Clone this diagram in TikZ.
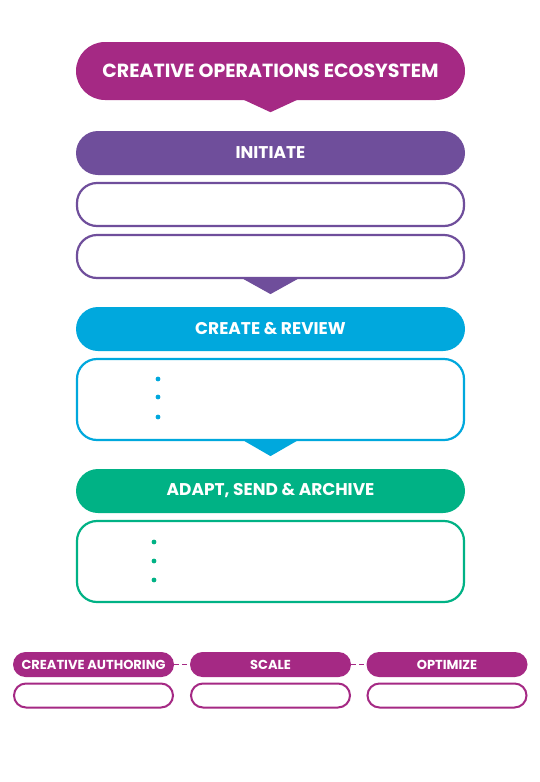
\documentclass[tikz,border=0pt]{standalone}
\usepackage{fontspec}
\setmainfont{Poppins}
\usepackage{tikz}
\usetikzlibrary{arrows.meta,positioning}
\definecolor{ecomag}{RGB}{165,41,132}
\definecolor{ecopurple}{RGB}{111,78,155}
\definecolor{ecocyan}{RGB}{0,168,221}
\definecolor{ecogreen}{RGB}{0,178,133}

\begin{document}
\begin{tikzpicture}[x=1pt,y=-1pt,>=Stealth,
  head/.style={fill=#1,text=white,rounded corners=22pt,minimum width=389pt,
    minimum height=44pt,inner sep=0pt,font=\bfseries\fontsize{17}{19}\selectfont},
  panel/.style={draw=#1,line width=2.2pt,fill=white,rounded corners=20pt,
    minimum width=387pt,inner sep=0pt},
  tag/.style={fill=ecomag,text=white,rounded corners=12.5pt,minimum width=161pt,
    minimum height=25pt,inner sep=0pt,font=\bfseries\fontsize{13}{15}\selectfont},
  slot/.style={draw=ecomag,line width=2pt,rounded corners=12pt,
    minimum width=159pt,minimum height=24pt,inner sep=0pt}]
  \useasboundingbox[fill=white] (0,0) rectangle (540,782);

  % title bubble with its pointer
  \node[head=ecomag,minimum height=58pt,rounded corners=29pt,
    font=\bfseries\fontsize{19}{21}\selectfont] (title) at (270.5,71) {CREATIVE OPERATIONS ECOSYSTEM};
  \fill[ecomag] ([xshift=-27pt,yshift=0.5pt]title.south) -- ([yshift=-12pt]title.south)
    -- ([xshift=27pt,yshift=0.5pt]title.south) -- cycle;

  % initiate
  \node[head=ecopurple] (initiate) at (270.5,153) {INITIATE};
  \node[panel=ecopurple,minimum height=43pt] (initA) at (270.5,204.5) {};
  \node[panel=ecopurple,minimum height=43pt] (initB) at (270.5,256.5) {};
  \fill[ecopurple] ([xshift=-27pt]initB.south) -- ([yshift=-15pt]initB.south)
    -- ([xshift=27pt]initB.south) -- cycle;

  % create & review
  \node[head=ecocyan] (create) at (270.5,329) {CREATE \& REVIEW};
  \node[panel=ecocyan,minimum height=81pt] (createbox) at (270.5,399.5) {};
  \foreach \by in {379,397,417}
    \fill[ecocyan] (158,\by) circle (2.4pt);
  \fill[ecocyan] ([xshift=-26pt]createbox.south) -- ([yshift=-15pt]createbox.south)
    -- ([xshift=26pt]createbox.south) -- cycle;

  % adapt, send & archive
  \node[head=ecogreen] (adapt) at (270.5,491) {ADAPT, SEND \& ARCHIVE};
  \node[panel=ecogreen,minimum height=81pt] (adaptbox) at (270.5,561.5) {};
  \foreach \by in {542,561,580}
    \fill[ecogreen] (154,\by) circle (2.4pt);

  % bottom row
  \node[tag] (authoring) at (93.5,664.5) {CREATIVE AUTHORING};
  \node[tag] (scale) at (270.5,664.5) {SCALE};
  \node[tag] (optimize) at (447,664.5) {OPTIMIZE};
  \node[slot] (authslot) at (93.5,695.5) {};
  \node[slot] (scaleslot) at (270.5,695.5) {};
  \node[slot] (optslot) at (447,695.5) {};
  \draw[ecomag,line width=1.5pt,dash pattern=on 5pt off 3pt] (authoring) -- (scale);
  \draw[ecomag,line width=1.5pt,dash pattern=on 5pt off 3pt] (scale) -- (optimize);
\end{tikzpicture}
\end{document}
